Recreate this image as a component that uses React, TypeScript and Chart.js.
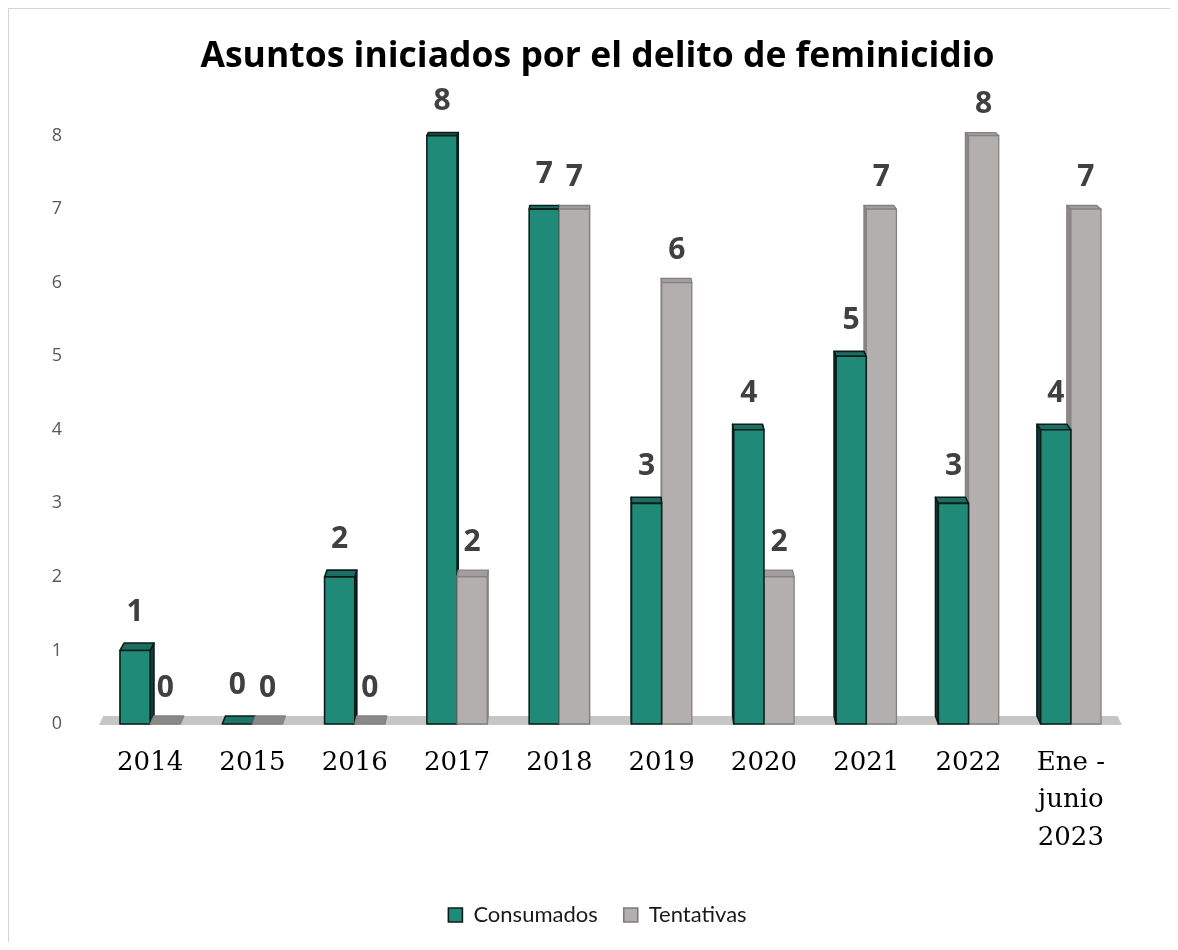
import React, { useEffect, useRef } from "react";
import { Chart, registerables } from "chart.js";

Chart.register(...registerables);

const TITLE = "Asuntos iniciados por el delito de feminicidio";
const categories: (string | string[])[] = [
  "2014", "2015", "2016", "2017", "2018", "2019", "2020", "2021", "2022",
  ["Ene -", "junio", "2023"],
];
const seriesNames = ["Consumados", "Tentativas"];
const consumados = [1, 0, 2, 8, 7, 3, 4, 5, 3, 4];
const tentativas = [0, 0, 0, 2, 7, 6, 2, 7, 8, 7];
const yMin = 0;
const yMax = 8;
const yStep = 1;

const faceStyles = [
  { front: "#1f8a78", top: "#1b6f62", side: "#0f3e36", stroke: "#0c1c19", zeroTop: "#1c7566", lw: 1.6, labelOffset: 31 },
  { front: "#b3afaf", top: "#a29e9e", side: "#8e8a8a", stroke: "#858181", zeroTop: "#8c8888", lw: 1.3, labelOffset: 28 },
];

const bars3d = {
  id: "bars3d",
  beforeDatasetsDraw(chart: any) {
    const ctx = chart.ctx as CanvasRenderingContext2D;
    const area = chart.chartArea;
    const yScale = chart.scales.y;
    const base = yScale.getPixelForValue(0);
    const VPx = (area.left + area.right) / 2 - 12;
    const VPy = base - 942;
    const f = 0.0085;
    const back = (x: number, y: number): [number, number] => [x + f * (VPx - x), y + f * (VPy - y)];
    const poly = (pts: [number, number][], fill: string, stroke: string | null, lw: number) => {
      ctx.beginPath();
      ctx.moveTo(pts[0][0], pts[0][1]);
      for (let i = 1; i < pts.length; i++) ctx.lineTo(pts[i][0], pts[i][1]);
      ctx.closePath();
      ctx.fillStyle = fill;
      ctx.fill();
      if (stroke) {
        ctx.strokeStyle = stroke;
        ctx.lineWidth = lw;
        ctx.stroke();
      }
    };
    ctx.save();
    ctx.lineJoin = "round";
    // floor
    const fl = back(area.left, base);
    const fr = back(area.right, base);
    poly([[area.left, base + 1], [area.right, base + 1], fr, fl], "#c6c6c6", null, 0);

    const items: any[] = [];
    chart.data.datasets.forEach((ds: any, di: number) => {
      const meta = chart.getDatasetMeta(di);
      meta.data.forEach((el: any, i: number) => {
        const p = el.getProps(["x", "y", "width", "base"], true);
        items.push({ di, i, value: ds.data[i], ...p });
      });
    });
    items.sort((a, b) => Math.abs(b.x - VPx) - Math.abs(a.x - VPx));
    for (const it of items) {
      const s = faceStyles[it.di];
      const L = it.x - it.width / 2;
      const R = it.x + it.width / 2;
      const T = it.y;
      const B = it.base;
      if (Math.abs(B - T) < 0.5) {
        poly([[L, B], [R, B], back(R, B), back(L, B)], s.zeroTop, s.stroke, s.lw);
        continue;
      }
      if (R < VPx) {
        poly([[R, T], back(R, T), back(R, B), [R, B]], s.side, s.stroke, s.lw);
      } else if (L > VPx) {
        poly([[L, T], back(L, T), back(L, B), [L, B]], s.side, s.stroke, s.lw);
      }
      poly([[L, T], [R, T], back(R, T), back(L, T)], s.top, s.stroke, s.lw);
      poly([[L, T], [R, T], [R, B], [L, B]], s.front, s.stroke, s.lw);
    }
    // value labels
    ctx.fillStyle = "#404040";
    ctx.font = "bold 30px 'Open Sans'";
    ctx.textAlign = "center";
    ctx.textBaseline = "middle";
    for (const it of items) {
      const s = faceStyles[it.di];
      const topY = back(it.x, it.y)[1];
      ctx.fillText(String(it.value), it.x, topY - s.labelOffset);
    }
    ctx.restore();
    return false;
  },
};

export default function App() {
  const ref = useRef<HTMLCanvasElement | null>(null);
  useEffect(() => {
    if (!ref.current) return;
    const chart = new Chart(ref.current, {
      type: "bar",
      data: {
        labels: categories,
        datasets: [
          {
            label: seriesNames[0],
            data: consumados,
            backgroundColor: faceStyles[0].front,
            borderColor: faceStyles[0].stroke,
            borderWidth: 1.6,
            categoryPercentage: 0.59,
            barPercentage: 1,
          },
          {
            label: seriesNames[1],
            data: tentativas,
            backgroundColor: faceStyles[1].front,
            borderColor: "#7f7b7b",
            borderWidth: 1.6,
            categoryPercentage: 0.59,
            barPercentage: 1,
          },
        ],
      },
      options: {
        responsive: false,
        animation: false,
        devicePixelRatio: 1,
        layout: { padding: { left: 8, right: 0, top: 0, bottom: 6 } },
        plugins: {
          title: {
            display: true,
            text: TITLE,
            color: "#000000",
            font: { family: "Open Sans", weight: "bold", size: 35.5 },
            padding: { top: 27, bottom: 57 },
          },
          legend: {
            display: true,
            position: "bottom",
            labels: {
              color: "#1a1a1a",
              font: { family: "Lato", size: 22 },
              boxWidth: 14,
              boxHeight: 14,
              padding: 26,
            },
          },
          tooltip: { enabled: false },
        },
        scales: {
          x: {
            type: "category",
            offset: true,
            grid: { display: false, drawTicks: false },
            border: { display: false },
            ticks: {
              color: "#000000",
              font: { family: "DejaVu Serif", size: 26, lineHeight: 1.45 },
              padding: 20,
              maxRotation: 0,
              autoSkip: false,
            },
            afterFit: (s: any) => {
              s.height = 154;
            },
          },
          y: {
            min: yMin,
            max: yMax,
            grid: { display: false, drawTicks: false },
            border: { display: false },
            ticks: {
              stepSize: yStep,
              color: "#595959",
              font: { family: "Open Sans", size: 18 },
              padding: 37,
            },
            afterFit: (s: any) => {
              s.width = 82;
            },
          },
          yRight: {
            type: "linear",
            position: "right",
            display: true,
            min: yMin,
            max: yMax,
            grid: { display: false, drawTicks: false },
            border: { display: false },
            ticks: { display: false },
            afterFit: (s: any) => {
              s.width = 56;
            },
          },
        },
      },
      plugins: [bars3d],
    });
    return () => chart.destroy();
  }, []);
  return (
    <div
      style={{
        width: 1170,
        height: 934,
        boxSizing: "border-box",
        borderLeft: "1px solid #d4d4d4",
        borderTop: "1px solid #d4d4d4",
        background: "#ffffff",
      }}
    >
      <canvas ref={ref} width={1169} height={933} style={{ display: "block" }} />
    </div>
  );
}
